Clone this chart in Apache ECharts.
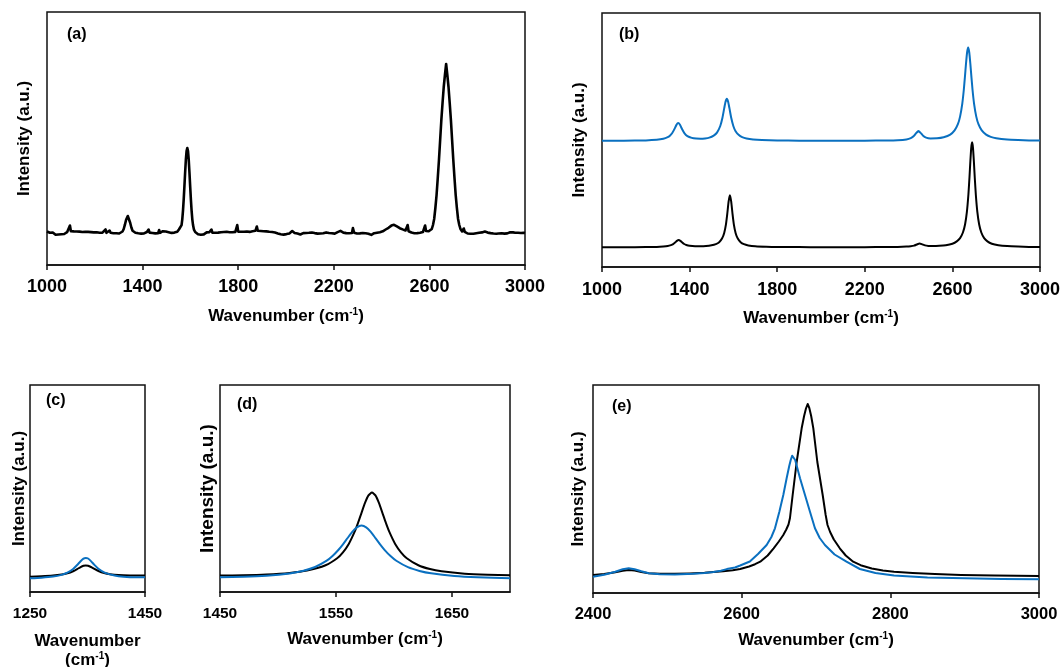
<!DOCTYPE html>
<html>
<head>
<meta charset="utf-8">
<script src="https://cdn.jsdelivr.net/npm/echarts@6/dist/echarts.min.js"></script>
<style>html,body{margin:0;padding:0;background:#fff}#c{width:1063px;height:667px}</style>
</head>
<body>
<div id="c"></div>
<script>
// ---------- data: [wavenumber (cm-1), intensity (a.u.)] ----------
const spectrumA = [[1000,33.5],[1006,33],[1012,32.2],[1018,33.2],[1024,32.5],[1030,31.5],[1036,30.2],[1042,29.5],[1048,30.5],[1054,29.8],[1060,30.8],[1066,31.5],[1072,31],[1078,32.3],[1084,32.8],[1090,33.2],[1096,39.5],[1100,33.8],[1106,32.8],[1112,33.6],[1118,32.9],[1124,33.5],[1130,32.6],[1136,33.4],[1142,32.3],[1148,33],[1154,32.2],[1160,33.3],[1166,32.5],[1172,33.1],[1178,32.2],[1184,32.9],[1190,31.8],[1196,32.6],[1202,31.9],[1208,32.8],[1214,31.6],[1220,32.3],[1226,31.5],[1232,32.4],[1238,32],[1245,35.5],[1249,32.2],[1255,32.8],[1262,34.5],[1266,32.3],[1272,32.9],[1278,31.8],[1284,32.6],[1290,31.7],[1296,32.4],[1302,31.5],[1308,32.5],[1316,33.5],[1321,36],[1326,40.3],[1331,45.2],[1338,49],[1343,47.5],[1348,42.3],[1353,37.5],[1358,34.3],[1364,33],[1370,32.3],[1376,32.9],[1382,31.8],[1388,32.5],[1394,31.4],[1400,32.2],[1406,31.6],[1412,32.8],[1418,33],[1425,35.5],[1429,32.4],[1435,33.1],[1441,32],[1447,32.7],[1453,31.6],[1459,32.3],[1465,31.8],[1469,35],[1473,32.2],[1479,33.3],[1485,33.8],[1491,32.9],[1497,33.5],[1503,32.3],[1509,32.8],[1515,31.6],[1521,32.1],[1527,31.4],[1533,32.4],[1539,32],[1545,33.2],[1552,35.5],[1556,33.5],[1559,35.3],[1563,39.9],[1566,45.7],[1569,54.3],[1572,65.6],[1575,78.9],[1578,92.8],[1581,105.3],[1584,113.9],[1587,117],[1590,113.9],[1593,105.3],[1596,92.8],[1599,78.9],[1602,65.6],[1605,54.3],[1608,45.7],[1611,39.9],[1615,35.3],[1620,33],[1626,31.2],[1632,30.8],[1638,31.2],[1644,30.3],[1650,31],[1656,30.6],[1662,31.8],[1668,32.6],[1674,32],[1680,32.9],[1688,35.5],[1692,32.4],[1698,31.6],[1704,32.3],[1710,31.5],[1716,32.4],[1722,31.9],[1728,32.8],[1734,32.2],[1740,33],[1746,32.4],[1752,33.2],[1758,32.3],[1764,32.8],[1770,31.9],[1776,32.7],[1782,32.2],[1788,33.1],[1796,40],[1800,33.4],[1806,32.5],[1812,33.2],[1818,32.4],[1824,33.3],[1830,32.6],[1836,33.5],[1842,32.4],[1848,33.1],[1854,32.8],[1860,33.8],[1866,33.3],[1872,34.2],[1878,38.5],[1882,34.2],[1888,33.4],[1894,34],[1900,33.1],[1906,33.8],[1912,32.8],[1918,33.6],[1924,34.2],[1930,33.2],[1936,33.9],[1942,33],[1948,33.7],[1954,32.5],[1960,32.9],[1966,31.6],[1972,32],[1978,30.8],[1984,31.2],[1990,30.4],[1996,31.3],[2002,30.9],[2008,32.1],[2014,31.6],[2020,32.9],[2026,34],[2030,32.6],[2036,32],[2042,32.5],[2048,31.4],[2054,31.9],[2060,30.5],[2066,31.4],[2072,31.9],[2078,32.6],[2084,32],[2090,32.8],[2096,32.2],[2102,33.2],[2108,32.5],[2114,33],[2120,31.9],[2126,32.4],[2132,31.4],[2138,32],[2144,31.5],[2150,32.3],[2156,31.8],[2162,33.3],[2168,32.6],[2174,32.9],[2180,32],[2186,32.7],[2192,31.8],[2198,32.3],[2204,31.4],[2210,32.1],[2216,32.9],[2222,33.4],[2228,34.1],[2234,32.9],[2240,32.4],[2246,32.9],[2252,31.9],[2258,32.5],[2264,31.8],[2270,32.3],[2276,32],[2280,37],[2285,32.2],[2291,32.6],[2297,31.5],[2303,32],[2309,31.6],[2315,32.6],[2321,32],[2327,32.7],[2333,31.8],[2339,32.2],[2345,31.3],[2351,30.4],[2357,30.1],[2363,31],[2369,31.8],[2375,31.5],[2381,32.3],[2387,31.9],[2393,32.8],[2399,32.6],[2405,33.7],[2411,34.2],[2417,35.5],[2423,35.9],[2429,37.2],[2435,37.6],[2441,39.4],[2447,39.1],[2452,40.2],[2458,39],[2464,38.6],[2470,37.1],[2476,36.8],[2482,35.2],[2488,35.6],[2494,34.1],[2500,34.5],[2505,34.4],[2509,40],[2513,33.8],[2519,33],[2525,32.5],[2531,32.9],[2537,31.8],[2543,32.6],[2549,31.9],[2555,31.4],[2561,32.3],[2567,31.8],[2573,33],[2578,32.6],[2582,39.5],[2586,34],[2592,33.2],[2597,33.8],[2601,33.6],[2605,34],[2610,36],[2615,40],[2620,46],[2625,57],[2630,70],[2635,87],[2640,105],[2645,125],[2650,145],[2655,162],[2660,178],[2665,190],[2670,201],[2675,190],[2680,178],[2685,162],[2690,145],[2695,125],[2700,105],[2705,87],[2710,70],[2715,57],[2720,46],[2725,40],[2730,36],[2737,33.5],[2744,36.5],[2748,33.2],[2754,32.4],[2760,31.5],[2766,30.8],[2772,31.2],[2778,30.5],[2784,31.3],[2790,31],[2796,31.8],[2802,31.3],[2808,32.3],[2814,31.8],[2820,32.6],[2826,32.1],[2832,33.4],[2838,33],[2844,32.4],[2850,32.9],[2856,31.9],[2862,32.4],[2868,31.5],[2874,32],[2880,31.2],[2885,30],[2889,31.5],[2892,33.5],[2896,32.2],[2902,31.8],[2908,32.4],[2914,31.4],[2920,32],[2926,31.6],[2932,32.4],[2938,32.7],[2944,33.3],[2950,32.6],[2955,34],[2959,32.3],[2965,31.7],[2971,32.2],[2977,31.4],[2983,32],[2989,31.6],[2995,32.3],[3000,32]];

const spectrumBBlue = [[1000,126.2],[1100,126.3],[1200,126.6],[1250,127.2],[1280,128.2],[1300,129.8],[1310,131.3],[1320,133.7],[1330,137.6],[1340,142.1],[1348,143.9],[1356,142.2],[1366,137.7],[1376,133.9],[1390,130.9],[1410,129.1],[1430,128.4],[1450,128.3],[1470,128.6],[1490,129.4],[1510,131.4],[1525,134.4],[1540,141],[1550,149.2],[1558,158.6],[1564,165.3],[1570,168.2],[1576,165.3],[1582,158.6],[1590,149.2],[1600,140.8],[1610,135.8],[1625,131.9],[1640,129.9],[1660,128.5],[1690,127.5],[1730,126.9],[1800,126.5],[1900,126.3],[2000,126.2],[2100,126.3],[2200,126.3],[2300,126.5],[2350,126.8],[2390,127.6],[2410,128.9],[2425,131.2],[2435,134],[2445,135.9],[2455,134.1],[2465,131.5],[2480,129.4],[2500,128.6],[2530,128.7],[2560,129.8],[2590,132.4],[2610,136.6],[2625,142.8],[2635,150.4],[2645,163.2],[2652,177],[2657,189.6],[2662,203.1],[2667,214.5],[2672,219.5],[2677,214.5],[2682,203.1],[2687,189.6],[2692,177],[2699,163.2],[2709,150.4],[2719,142.8],[2734,136.6],[2754,132.4],[2775,130.1],[2800,128.7],[2850,127.4],[2900,126.9],[2950,126.6],[3000,126.4]];

const spectrumBBlack = [[1000,19.8],[1100,19.8],[1200,19.9],[1250,20.1],[1280,20.5],[1300,21],[1315,21.9],[1325,22.9],[1335,24.7],[1342,26.1],[1350,26.9],[1358,26.1],[1365,24.7],[1375,23],[1385,22],[1400,21.2],[1425,20.8],[1450,20.8],[1475,21],[1500,21.7],[1520,22.9],[1535,24.8],[1548,28.4],[1558,34.1],[1566,42.7],[1572,53.1],[1578,65.4],[1584,71.8],[1590,65.4],[1596,53.1],[1602,42.7],[1610,34.1],[1620,28.4],[1633,24.8],[1648,22.8],[1668,21.6],[1700,20.7],[1750,20.2],[1800,20],[1900,19.9],[2000,19.85],[2100,19.8],[2200,19.85],[2300,20],[2350,20.1],[2390,20.4],[2410,20.8],[2425,21.4],[2440,22.8],[2450,23.5],[2460,22.9],[2475,21.6],[2490,21.1],[2510,21],[2540,21.2],[2570,21.8],[2600,23.3],[2620,25.6],[2635,28.9],[2648,34.5],[2658,42.8],[2666,54.8],[2673,72.2],[2678,89.8],[2682,105.7],[2686,119.2],[2690,124.7],[2694,119.2],[2698,105.7],[2702,89.8],[2707,72.2],[2714,54.8],[2722,42.8],[2732,34.5],[2745,28.9],[2760,25.6],[2780,23.3],[2810,21.8],[2850,20.9],[2900,20.4],[2950,20.1],[3000,20]];

const spectrumCBlue = [[1250,13.7],[1270,14.3],[1290,15.4],[1305,17.15],[1315,19.3],[1325,23.05],[1332,27],[1338,30.8],[1343,33.4],[1347,34.1],[1351,33.5],[1356,30.9],[1362,27.1],[1369,23.3],[1379,19.65],[1389,17.6],[1404,15.76],[1424,14.85],[1450,14.64]];
const spectrumCBlack = [[1250,15.36],[1270,15.72],[1290,16.39],[1305,17.43],[1315,18.69],[1325,20.77],[1332,22.9],[1338,24.92],[1343,26.23],[1347,26.6],[1351,26.25],[1356,25],[1362,23.03],[1369,20.97],[1379,18.99],[1389,17.86],[1404,16.99],[1424,16.57],[1450,16.4]];

const spectrumDBlack = [[1450,16.44],[1470,16.81],[1490,17.58],[1510,19.1],[1525,21.4],[1541,26.72],[1551,33.72],[1556,39.62],[1561,48.02],[1566,60.03],[1569,69.1],[1572,79.2],[1575,89.1],[1578,96.6],[1581,99.5],[1584,96.6],[1587,89.1],[1590,79.2],[1593,69.1],[1596,60.05],[1601,48.05],[1606,39.7],[1611,33.8],[1621,26.74],[1631,22.91],[1641,20.69],[1661,18.37],[1681,17.27],[1700,16.7]];
const spectrumDBlue = [[1450,14.74],[1470,15.18],[1490,16.27],[1510,18.59],[1522,21.26],[1532,24.97],[1542,31.35],[1547,36.03],[1552,42.02],[1556,47.71],[1560,54],[1564,60.1],[1568,64.7],[1572,66.38],[1576,64.67],[1580,60.07],[1584,53.95],[1588,47.65],[1592,41.95],[1597,35.95],[1602,31.23],[1612,24.83],[1622,21.08],[1632,18.7],[1652,16.1],[1672,14.8],[1700,13.85]];

const spectrumEBlack = [[2400,18],[2415,19],[2430,20.8],[2440,22.3],[2448,23],[2456,22.4],[2465,21],[2475,19.8],[2490,19.3],[2510,19.3],[2530,19.6],[2550,20.2],[2562,20.9],[2575,21.8],[2588,22.8],[2598,24],[2610,26.5],[2618,28.8],[2625,31.3],[2635,37.5],[2643,44.7],[2650,51.5],[2656,58],[2660,63.5],[2663,68.5],[2665,75],[2668.6,98],[2674,131],[2680.7,164.7],[2684,177],[2686.5,184.5],[2688.8,189],[2691,185],[2693.5,177],[2696.4,164.7],[2701.8,131],[2709,98],[2713,78],[2715.5,68],[2719,61],[2724,53.5],[2732,44.7],[2740,37.5],[2750,31.3],[2760,27.8],[2775,24.5],[2790,22.5],[2805,21.3],[2830,20],[2860,18.9],[2895,18],[2940,17.5],[3000,17]];
const spectrumEBlue = [[2400,16.3],[2415,18.2],[2430,21.2],[2440,23.7],[2448,24.7],[2456,23.8],[2465,21.8],[2475,19.8],[2490,18.7],[2510,18.5],[2535,19.2],[2550,20],[2562,20.9],[2572,22.3],[2580,23.9],[2591,25.5],[2598,27.5],[2611,31.5],[2622,39],[2633.6,48],[2640,56],[2644.8,64.7],[2650.7,81.3],[2656,98],[2660.5,114.7],[2664,127],[2666,133],[2668,137.3],[2670,136.5],[2672,133],[2678.5,114.7],[2685.2,98],[2691.9,81.3],[2698.6,64.7],[2705,55],[2712,48],[2725,38.5],[2741,31.3],[2759,24],[2780,20],[2805,17.5],[2850,15.6],[2900,14.7],[2950,14.1],[3000,13.7]];

// tick labels
const ticksAB = [1000,1400,1800,2200,2600,3000];
const ticksC = [1250,1450];
const ticksD = [1450,1550,1650];
const ticksE = [2400,2600,2800,3000];
const panelLabels = ['(a)','(b)','(c)','(d)','(e)'];
const yName = 'Intensity (a.u.)';

// ---------- chart ----------
const FONT = "'Liberation Sans', Arial, sans-serif";
const BLUE = '#0a70c0';
const chart = echarts.init(document.getElementById('c'), null, {renderer: 'canvas'});

const grids = [
  {left:47, top:12, width:478, height:253},
  {left:602, top:13, width:438, height:254},
  {left:30, top:385, width:115, height:207},
  {left:220, top:385, width:290, height:207},
  {left:593, top:385, width:446, height:208}
].map(g => Object.assign({show:true, borderColor:'#111', borderWidth:1.5, backgroundColor:'transparent', containLabel:false, outerBoundsMode:'none'}, g));

const nameRich = {
  n: {fontFamily: FONT, fontWeight: 'bold', fontSize: 17, color: '#000', lineHeight: 19},
  s: {fontFamily: FONT, fontWeight: 'bold', fontSize: 10, color: '#000', lineHeight: 19, verticalAlign: 'top'}
};
const xName1 = '{n|Wavenumber (cm}{s|-1}{n|)}';
const xName2 = '{n|Wavenumber}\n{n|(cm}{s|-1}{n|)}';

function xAxis(i, min, max, ticks, labelSize, margin, name, nameGap) {
  return {
    type:'value', gridIndex:i, min:min, max:max,
    axisLine:{show:true, lineStyle:{color:'#111', width:1.5}},
    axisTick:{show:true, inside:false, length:5, customValues:ticks, lineStyle:{color:'#111', width:1.5}},
    axisLabel:{show:true, customValues:ticks, formatter:(v) => String(v), fontFamily:FONT, fontWeight:'bold', fontSize:labelSize, color:'#000', margin:margin},
    splitLine:{show:false},
    name:name, nameLocation:'middle', nameGap:nameGap,
    nameTextStyle:{rich:nameRich, align:'center'}
  };
}
function yAxis(i, max, gap, size) {
  return {
    type:'value', gridIndex:i, min:0, max:max,
    axisLine:{show:false}, axisTick:{show:false}, axisLabel:{show:false}, splitLine:{show:false},
    name:yName, nameLocation:'middle', nameGap:gap,
    nameTextStyle:{fontFamily:FONT, fontWeight:'bold', fontSize:size, color:'#000'}
  };
}
function line(data, xi, color, width, smooth) {
  return {type:'line', xAxisIndex:xi, yAxisIndex:xi, data:data, showSymbol:false, symbol:'none',
    smooth:smooth, lineStyle:{color:color, width:width, join:'round'}, silent:true, animation:false, z:color === BLUE ? 3 : 2};
}

const titlePos = [[67,27],[619,27],[46,393],[237,397],[612,399]];

chart.setOption({
  animation:false,
  backgroundColor:'#fff',
  title: panelLabels.map((t,i) => ({text:t, left:titlePos[i][0], top:titlePos[i][1], padding:0,
    textStyle:{fontFamily:FONT, fontWeight:'bold', fontSize:16, color:'#000'}})),
  grid: grids,
  xAxis: [
    xAxis(0, 1000, 3000, ticksAB, 18, 13, xName1, 42),
    xAxis(1, 1000, 3000, ticksAB, 18, 14, xName1, 42),
    xAxis(2, 1250, 1450, ticksC, 15.5, 14, xName2, 40),
    xAxis(3, 1450, 1700, ticksD, 15.5, 14, xName1, 38),
    xAxis(4, 2400, 3000, ticksE, 16.5, 13, xName1, 38)
  ],
  yAxis: [
    yAxis(0, 253, 14, 17),
    yAxis(1, 254, 14, 17),
    yAxis(2, 207, 2, 17),
    yAxis(3, 207, 3, 19),
    yAxis(4, 208, 6, 17)
  ],
  series: [
    line(spectrumA, 0, '#000', 2.6, false),
    line(spectrumBBlue, 1, BLUE, 2, 0.15),
    line(spectrumBBlack, 1, '#000', 2, 0.15),
    line(spectrumCBlack, 2, '#000', 2, 0.2),
    line(spectrumCBlue, 2, BLUE, 2, 0.2),
    line(spectrumDBlack, 3, '#000', 2, 0.2),
    line(spectrumDBlue, 3, BLUE, 2, 0.2),
    line(spectrumEBlack, 4, '#000', 2, false),
    line(spectrumEBlue, 4, BLUE, 2, false)
  ]
});
</script>
</body>
</html>
